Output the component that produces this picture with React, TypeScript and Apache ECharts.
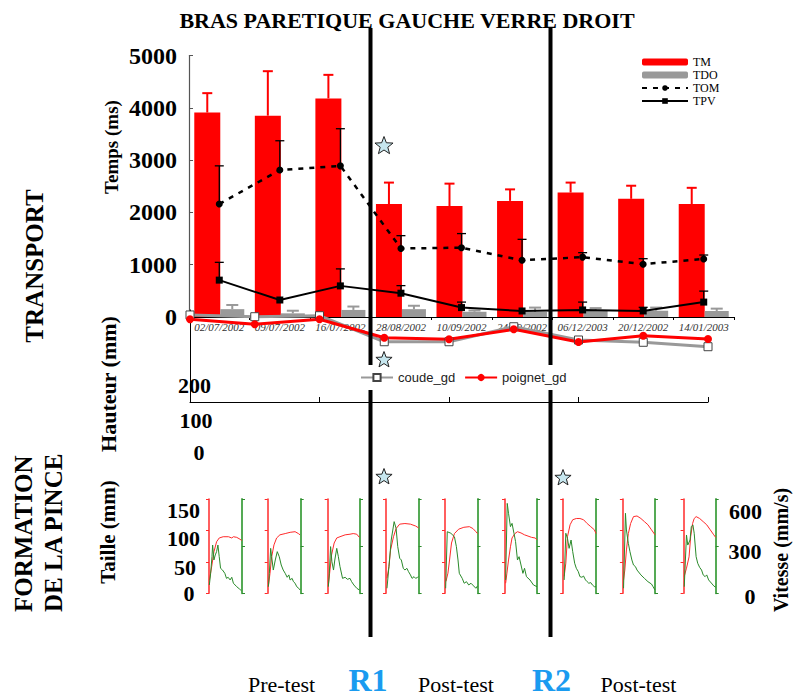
import React, { useEffect, useRef } from 'react';
import * as echarts from 'echarts';

// ---------- DATA ----------
const dates = ['02/07/2002', '09/07/2002', '16/07/2002', '28/08/2002', '10/09/2002', '24/09/2002', '06/12/2003', '20/12/2002', '14/01/2003'];
const tmMean = [3910, 3850, 4180, 2160, 2120, 2220, 2380, 2260, 2160];
const tmTop = [4280, 4700, 4630, 2570, 2550, 2440, 2570, 2510, 2470];
const tdoMean = [150, 70, 135, 150, 100, 95, 115, 120, 115];
const tdoTop = [230, 120, 200, 215, 125, 180, 170, 180, 160];
const tomMean = [2160, 2810, 2890, 1310, 1325, 1085, 1145, 1010, 1110];
const tomTop = [2890, 3370, 3600, 1555, 1595, 1485, 1230, 1115, 1185];
const tpvMean = [705, 325, 595, 455, 180, 115, 135, 115, 285];
const tpvTop: (number | null)[] = [1045, null, 920, 600, 285, null, 285, 185, 495];

const coudeGd = [5.4, 7.3, 6.2, 34.5, 34.5, 18.2, 32.6, 35.1, 39.9];
const poignetGd = [10.1, 15.5, 10.1, 30.1, 31.8, 21.0, 34.8, 27.9, 31.5];

const tailleLabels = ['150', '100', '50', '0'];
const vitesseLabels = ['600', '300', '0'];
const hauteurLabels = ['200', '100', '0'];

// mini charts: [time %, value]
const taille1 = [[1, 21], [8, 42], [15, 66], [23, 82], [31, 88], [43, 90], [59, 90], [69, 88], [74, 90], [84, 89], [94, 86], [99, 84]];
const vitesse1 = [[1, 53], [5, 127], [9, 233], [11, 307], [15, 212], [19, 244], [23, 265], [27, 307], [31, 233], [35, 159], [41, 148], [48, 127], [53, 95], [58, 102], [64, 85], [69, 102], [74, 64], [84, 42], [92, 28], [98, 17]];
const taille2 = [[2, 11], [7, 32], [12, 58], [19, 77], [27, 88], [37, 93], [53, 95], [68, 97], [83, 98], [93, 95], [98, 93]];
const vitesse2 = [[2, 42], [5, 127], [9, 286], [12, 233], [17, 148], [23, 212], [29, 265], [35, 233], [41, 180], [47, 148], [53, 127], [59, 102], [64, 117], [68, 85], [74, 95], [78, 74], [83, 64], [88, 42], [94, 32], [98, 21]];
const taille3 = [[2, 13], [7, 37], [12, 61], [20, 80], [28, 88], [38, 90], [54, 93], [69, 94], [79, 95], [90, 94], [98, 89]];
const vitesse3 = [[2, 42], [5, 127], [9, 297], [13, 201], [18, 148], [22, 212], [28, 286], [33, 233], [38, 170], [46, 95], [54, 102], [61, 89], [69, 95], [74, 74], [81, 53], [90, 32], [98, 21]];
const taille4 = [[3, 24], [9, 42], [14, 69], [23, 90], [31, 103], [42, 110], [58, 111], [75, 110], [91, 107], [100, 104]];
const vitesse4 = [[3, 32], [9, 170], [16, 339], [25, 456], [31, 413], [36, 297], [42, 223], [47, 212], [53, 159], [58, 148], [64, 159], [69, 138], [75, 117], [80, 95], [86, 106], [91, 95], [97, 102], [100, 106]];
const taille5 = [[3, 19], [9, 32], [14, 53], [20, 80], [29, 95], [42, 102], [58, 105], [75, 106], [86, 103], [95, 98], [100, 95]];
const vitesse5 = [[2, 32], [7, 392], [18, 382], [29, 360], [35, 297], [40, 212], [44, 127], [53, 95], [59, 64], [66, 74], [73, 53], [80, 64], [88, 47], [95, 32], [100, 47]];
const taille6 = [[2, 16], [6, 32], [11, 53], [17, 74], [22, 88], [31, 95], [39, 98], [50, 96], [61, 93], [72, 91], [83, 89], [94, 88], [100, 85]];
const vitesse6 = [[2, 85], [7, 572], [11, 509], [17, 424], [22, 445], [28, 382], [33, 329], [39, 212], [44, 233], [50, 180], [56, 127], [61, 159], [67, 106], [78, 85], [89, 53], [100, 42]];
const taille7 = [[3, 27], [8, 48], [13, 90], [21, 109], [29, 117], [40, 119], [51, 119], [62, 117], [73, 111], [84, 106], [95, 101], [100, 95]];
const vitesse7 = [[3, 85], [8, 382], [13, 350], [18, 286], [24, 339], [29, 265], [35, 191], [40, 159], [46, 138], [51, 106], [57, 102], [62, 110], [68, 85], [73, 74], [78, 64], [84, 68], [89, 53], [95, 42], [100, 42]];
const taille8 = [[2, 21], [6, 37], [11, 69], [17, 95], [24, 111], [33, 122], [44, 123], [56, 119], [67, 114], [78, 109], [89, 101], [100, 93]];
const vitesse8 = [[2, 32], [8, 509], [11, 403], [17, 318], [22, 265], [28, 212], [33, 180], [39, 170], [44, 148], [56, 117], [67, 95], [78, 74], [89, 59], [94, 42], [100, 21]];
const taille9 = [[2, 27], [9, 40], [17, 58], [22, 90], [28, 111], [33, 119], [39, 122], [50, 119], [61, 114], [72, 109], [83, 101], [94, 93], [100, 89]];
const vitesse9 = [[2, 42], [9, 371], [13, 307], [20, 339], [24, 424], [29, 435], [33, 382], [39, 233], [44, 191], [50, 165], [56, 148], [61, 117], [67, 106], [72, 117], [78, 85], [89, 59], [94, 47], [100, 38]];

const tailleSets = [taille1, taille2, taille3, taille4, taille5, taille6, taille7, taille8, taille9];
const vitesseSets = [vitesse1, vitesse2, vitesse3, vitesse4, vitesse5, vitesse6, vitesse7, vitesse8, vitesse9];

// ---------- LAYOUT ----------
const SERIF = '"Liberation Serif", "Times New Roman", serif';
const SANS = '"Liberation Sans", Arial, sans-serif';
const RED_W = 26;
const GRAY_W = 24;
const miniLeft = [209, 267.7, 327.7, 386, 445, 505, 563.2, 622.9, 683.6];
const miniRight = [242, 300.7, 360, 418.6, 477.5, 537, 596, 655, 715.7];
const MINI_TOP = 499;
const MINI_H = 94.3;

function starPoints(cx: number, cy: number, r: number) {
  const pts: number[][] = [];
  for (let i = 0; i < 10; i++) {
    const a = -Math.PI / 2 + (i * Math.PI) / 5;
    const rr = i % 2 === 0 ? r : r * 0.42;
    pts.push([cx + rr * Math.cos(a), cy + rr * Math.sin(a)]);
  }
  return pts;
}

function errSeries(name: string, means: number[], tops: (number | null)[], color: string, offset: number, capHalf: number, lw: number, z: number) {
  const data = means.map((m, i) => [i, m, tops[i]]).filter((d) => d[2] != null);
  return {
    type: 'custom',
    name,
    xAxisIndex: 0,
    yAxisIndex: 0,
    z,
    silent: true,
    data,
    renderItem: (params: any, api: any) => {
      const p0 = api.coord([api.value(0), api.value(1)]);
      const p1 = api.coord([api.value(0), api.value(2)]);
      const x = p0[0] + offset;
      return {
        type: 'group',
        children: [
          { type: 'line', shape: { x1: x, y1: p0[1], x2: x, y2: p1[1] }, style: { stroke: color, lineWidth: lw } },
          { type: 'line', shape: { x1: x - capHalf, y1: p1[1], x2: x + capHalf, y2: p1[1] }, style: { stroke: color, lineWidth: lw } },
        ],
      };
    },
  };
}

function txt(text: string, x: number, y: number, size: number, o: any = {}) {
  const align = o.align || 'center';
  return {
    type: 'text',
    x,
    y,
    rotation: o.rot || 0,
    z: 20,
    silent: true,
    style: {
      text,
      fill: o.color || '#000',
      fontSize: size,
      fontFamily: o.family || SERIF,
      fontWeight: o.weight || 'bold',
      align,
      textAlign: align,
      verticalAlign: 'middle',
      textVerticalAlign: 'middle',
    },
  };
}

function vline(x: number, y1: number, y2: number) {
  return { type: 'line', z: 6, silent: true, shape: { x1: x, y1, x2: x, y2 }, style: { stroke: '#000', lineWidth: 4 } };
}

export default function App() {
  const ref = useRef<HTMLDivElement>(null);
  useEffect(() => {
    const chart = echarts.init(ref.current!, null, { renderer: 'svg' });

    const grids: any[] = [
      { left: 189, top: 55.5, width: 545, height: 261.5, outerBoundsMode: 'none' },
      { left: 190, top: 310, width: 518, height: 92, outerBoundsMode: 'none' },
    ];
    const xAxes: any[] = [
      {
        type: 'category', gridIndex: 0, data: dates, boundaryGap: true,
        axisLine: { show: true, onZero: false, lineStyle: { color: '#000', width: 1 } },
        axisTick: { show: true, length: 3, lineStyle: { color: '#000' } },
        axisLabel: { interval: 0, fontStyle: 'italic', fontSize: 11, fontFamily: SERIF, color: '#333', margin: 4 },
      },
      {
        type: 'category', gridIndex: 1, data: dates, boundaryGap: false, position: 'bottom',
        axisLine: { show: true, onZero: false, lineStyle: { color: '#000', width: 1 } },
        axisTick: { show: true, inside: true, length: 5, lineStyle: { color: '#000' } },
        axisLabel: { show: false },
      },
    ];
    const yAxes: any[] = [
      {
        type: 'value', gridIndex: 0, min: 0, max: 5000, interval: 1000,
        axisLine: { show: true, lineStyle: { color: '#555', width: 1.2 } },
        axisTick: { show: true, inside: true, length: 4, lineStyle: { color: '#555' } },
        axisLabel: { fontSize: 24, fontWeight: 'bold', fontFamily: SERIF, color: '#000', margin: 12, formatter: (v: number) => String(v) },
        splitLine: { show: false },
      },
      {
        type: 'value', gridIndex: 1, min: 0, max: 100, inverse: true,
        axisLine: { show: true, onZero: false, lineStyle: { color: '#000', width: 1 } },
        axisTick: { show: false },
        axisLabel: { show: false },
        splitLine: { show: false },
      },
    ];

    const series: any[] = [
      { type: 'bar', name: 'TM', xAxisIndex: 0, yAxisIndex: 0, data: tmMean, barWidth: RED_W, barGap: '0%', itemStyle: { color: '#ff0000' }, z: 2 },
      { type: 'bar', name: 'TDO', xAxisIndex: 0, yAxisIndex: 0, data: tdoMean, barWidth: GRAY_W, barGap: '0%', itemStyle: { color: '#999999' }, z: 2 },
      errSeries('errTM', tmMean, tmTop, '#ff0000', -GRAY_W / 2, 5, 2, 3),
      errSeries('errTDO', tdoMean, tdoTop, '#999999', RED_W / 2, 6, 2, 3),
      {
        type: 'line', name: 'TOM', xAxisIndex: 0, yAxisIndex: 0, data: tomMean, z: 4,
        symbol: 'circle', symbolSize: 7, itemStyle: { color: '#000' },
        lineStyle: { color: '#000', width: 2.5, type: [5, 6] },
      },
      errSeries('errTOM', tomMean, tomTop, '#000', 0, 4.5, 1.3, 4),
      {
        type: 'line', name: 'TPV', xAxisIndex: 0, yAxisIndex: 0, data: tpvMean, z: 4,
        symbol: 'rect', symbolSize: 7, itemStyle: { color: '#000' },
        lineStyle: { color: '#000', width: 2 },
      },
      errSeries('errTPV', tpvMean, tpvTop, '#000', 0, 4.5, 1.3, 4),
      {
        type: 'line', name: 'coude_gd', xAxisIndex: 1, yAxisIndex: 1, data: coudeGd, z: 5,
        symbol: 'rect', symbolSize: 8, itemStyle: { color: '#fff', borderColor: '#444', borderWidth: 1 },
        lineStyle: { color: '#999999', width: 3 },
      },
      {
        type: 'line', name: 'poignet_gd', xAxisIndex: 1, yAxisIndex: 1, data: poignetGd, z: 5,
        symbol: 'circle', symbolSize: 8, itemStyle: { color: '#ff0000' },
        lineStyle: { color: '#ff0000', width: 3 },
      },
    ];

    for (let k = 0; k < 9; k++) {
      const gi = grids.length;
      grids.push({ left: miniLeft[k], top: MINI_TOP, width: miniRight[k] - miniLeft[k], height: MINI_H, outerBoundsMode: 'none' });
      const xi = xAxes.length;
      xAxes.push({ type: 'value', gridIndex: gi, min: 0, max: 100, show: false });
      const yr = yAxes.length;
      yAxes.push({
        type: 'value', gridIndex: gi, position: 'left', min: 0, max: 150, interval: 50,
        axisLine: { show: true, lineStyle: { color: '#ff2a2a', width: 1.5 } },
        axisTick: { show: true, length: 3, lineStyle: { color: '#ff2a2a', width: 1 } },
        axisLabel: { show: false }, splitLine: { show: false },
      });
      yAxes.push({
        type: 'value', gridIndex: gi, position: 'right', min: 0, max: 600, interval: 300,
        axisLine: { show: true, lineStyle: { color: '#55aa55', width: 2 } },
        axisTick: { show: true, length: 3, lineStyle: { color: '#2e8b2e', width: 1 } },
        axisLabel: { show: false }, splitLine: { show: false },
      });
      series.push({
        type: 'line', name: 'taille' + k, xAxisIndex: xi, yAxisIndex: yr, data: tailleSets[k],
        showSymbol: false, symbol: 'none', lineStyle: { color: '#ff2a2a', width: 1 }, z: 3,
      });
      series.push({
        type: 'line', name: 'vitesse' + k, xAxisIndex: xi, yAxisIndex: yr + 1, data: vitesseSets[k],
        showSymbol: false, symbol: 'none', lineStyle: { color: '#2a8a2a', width: 1 }, z: 3,
      });
    }

    const tailleY = [510, 538, 567, 593];
    const tailleX = [183.5, 183.5, 185, 189];
    const vitY = [511.7, 551.7, 596.7];
    const vitX = [745.5, 745, 750];
    const hautY = [385, 420, 452];
    const hautX = [194.5, 196, 199];

    const elements: any[] = [
      vline(370.5, 28, 365), vline(370.5, 390, 637),
      vline(550.5, 28, 371), vline(550.5, 384, 637),
      txt('BRAS PARETIQUE GAUCHE VERRE DROIT', 407, 20, 22),
      txt('TRANSPORT', 34, 266, 25, { rot: Math.PI / 2 }),
      txt('FORMATION', 23, 612, 25, { rot: Math.PI / 2, align: 'left' }),
      txt('DE LA PINCE', 53, 612, 25, { rot: Math.PI / 2, align: 'left' }),
      txt('Temps (ms)', 111, 147, 19, { rot: Math.PI / 2 }),
      txt('Hauteur (mm)', 108, 384, 22, { rot: Math.PI / 2 }),
      txt('Taille (mm)', 108, 532, 21, { rot: Math.PI / 2 }),
      txt('Vitesse (mm/s)', 781, 550, 20, { rot: Math.PI / 2 }),
      txt('Pre-test', 281.5, 684, 22, { weight: 'normal' }),
      txt('R1', 368, 680, 32, { color: '#1a9bf0' }),
      txt('Post-test', 456, 684, 22, { weight: 'normal' }),
      txt('R2', 551.5, 680, 32, { color: '#1a9bf0' }),
      txt('Post-test', 638.5, 684, 22, { weight: 'normal' }),
      ...tailleLabels.map((t, i) => txt(t, tailleX[i], tailleY[i], 22)),
      ...vitesseLabels.map((t, i) => txt(t, vitX[i], vitY[i], 22)),
      ...hauteurLabels.map((t, i) => txt(t, hautX[i], hautY[i], 22)),
      ...[[384, 146, 9.5], [384, 360, 8.5], [384, 477, 8.5], [563, 478, 8.5]].map((s) => ({
        type: 'polygon', z: 25, silent: true,
        shape: { points: starPoints(s[0], s[1], s[2]) },
        style: { fill: '#c6e6ee', stroke: '#222', lineWidth: 1 },
      })),
    ];

    const option: any = {
      animation: false,
      backgroundColor: '#fff',
      textStyle: { fontFamily: SERIF },
      grid: grids,
      xAxis: xAxes,
      yAxis: yAxes,
      legend: [
        {
          data: ['TM', 'TDO', 'TOM', 'TPV'], orient: 'vertical', left: 641, top: 56,
          itemWidth: 46, itemHeight: 7, itemGap: 1, padding: 0, z: 10,
          textStyle: { fontSize: 12, fontFamily: SERIF, color: '#000', lineHeight: 12 },
        },
        {
          data: ['coude_gd', 'poignet_gd'], orient: 'horizontal', left: 356, top: 365,
          itemWidth: 32, itemHeight: 9, itemGap: 9, padding: [6, 4, 6, 4], z: 10,
          backgroundColor: '#fff',
          textStyle: { fontSize: 13, fontFamily: SANS, color: '#222' },
        },
      ],
      series,
      graphic: { elements },
    };
    chart.setOption(option);
    return () => chart.dispose();
  }, []);
  return <div ref={ref} style={{ position: 'fixed', left: 0, top: 0, width: 795, height: 697 }} />;
}
